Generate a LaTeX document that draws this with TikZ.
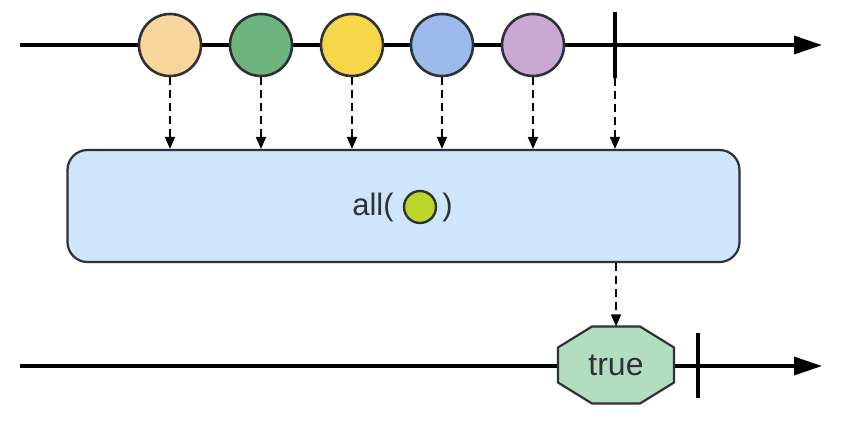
\documentclass[tikz,border=0pt]{standalone}
\usepackage{fontspec}
\setmainfont{Liberation Sans}
\usetikzlibrary{positioning,arrows.meta}

\definecolor{peach}{HTML}{F8D59A}
\definecolor{leaf}{HTML}{6DB47F}
\definecolor{sun}{HTML}{F8D64A}
\definecolor{sky}{HTML}{9BBBEC}
\definecolor{lilac}{HTML}{C9A9D4}
\definecolor{opfill}{HTML}{CFE5FB}
\definecolor{lime}{HTML}{BDD62A}
\definecolor{mint}{HTML}{B3DDC1}
\definecolor{ink}{HTML}{2E3135}

\begin{document}
\begin{tikzpicture}[x=1pt,y=-1pt,
	marble/.style={circle,draw=ink,line width=2.6pt,minimum size=62pt,inner sep=0pt},
	timeline/.style={line width=3.2pt,-{Triangle[length=28pt,width=18pt]}},
	emit/.style={line width=1.9pt,dash pattern=on 8pt off 5pt,-{Triangle[length=12pt,width=10pt]}},
	tick/.style={line width=3.2pt}]

		\useasboundingbox (0,0) rectangle (864,426);

		% Source timeline
		\coordinate (src start) at (20,45);
		\coordinate (src end) at (822,45);
		\draw[timeline] (src start) -- (src end);

		% Emitted items
		\node[marble,fill=peach] (m1) at (170,45) {};
		\node[marble,fill=leaf]  (m2) at (261,45) {};
		\node[marble,fill=sun]   (m3) at (352,45) {};
		\node[marble,fill=sky]   (m4) at (442,45) {};
		\node[marble,fill=lilac] (m5) at (533,45) {};

		% Completion
		\coordinate (src done top) at (615,12);
		\coordinate (src done) at (615,78);
		\draw[tick] (src done top) -- (src done);

		% Operator box
		\node[draw=ink,line width=2.2pt,fill=opfill,rounded corners=20pt,
			minimum width=672pt,minimum height=112pt] (op) at (403.5,206) {};
		\node[circle,draw=ink,line width=2.4pt,fill=lime,minimum size=32pt,inner sep=0pt] (pred) at (420,207) {};
		\node[anchor=east,inner sep=0pt,text=ink,font=\fontsize{31}{36}\selectfont] (op name) at ([xshift=-9pt]pred.west) {all(};
		\node[anchor=west,inner sep=0pt,text=ink,font=\fontsize{31}{36}\selectfont] (op close) at ([xshift=5pt]pred.east) {)};

		% Arrows into operator
		\foreach \m in {m1,m2,m3,m4,m5}
			\draw[emit] (\m.south) -- (\m.south |- op.north);
		\draw[emit] (src done) -- (src done |- op.north);

		% Result timeline
		\coordinate (res start) at (20,366);
		\coordinate (res end) at (822,366);
		\draw[timeline] (res start) -- (res end);

		% Result item (octagon)
		\coordinate (res) at (616,365);
		\draw[ink,line width=2.2pt,fill=mint,line join=round]
			([shift={(-24,-38.5)}]res) -- ([shift={(24,-38.5)}]res)
			-- ([shift={(58,-17.5)}]res) -- ([shift={(58,17.5)}]res)
			-- ([shift={(24,38.5)}]res) -- ([shift={(-24,38.5)}]res)
			-- ([shift={(-58,17.5)}]res) -- ([shift={(-58,-17.5)}]res) -- cycle;
		\node[minimum width=116pt,minimum height=77pt,inner sep=0pt,
			text=ink,font=\fontsize{32}{36}\selectfont] (result) at (res) {true};
		\draw[emit] (op.south -| result.north) -- (result.north);

		\coordinate (res done top) at (698,333);
		\coordinate (res done) at (698,398);
		\draw[tick] (res done top) -- (res done);

	\end{tikzpicture}
\end{document}
